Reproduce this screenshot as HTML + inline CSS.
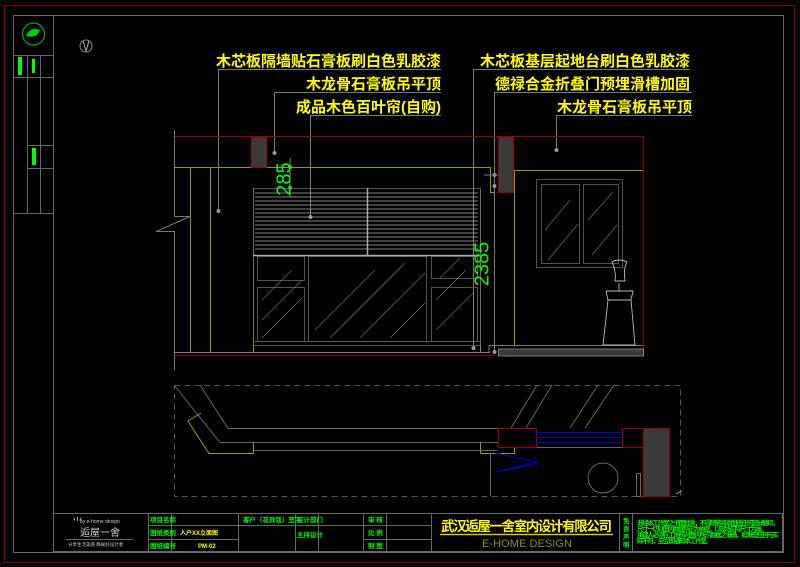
<!DOCTYPE html>
<html><head><meta charset="utf-8">
<style>
html,body{margin:0;padding:0;background:#000;}
svg{display:block;}
text{font-family:"Liberation Sans","Noto Sans CJK SC",sans-serif;}
.y{fill:#ffff00;font-size:15px;font-weight:bold;}
.g{fill:#00ff00;font-size:6.5px;font-weight:bold;}
</style></head><body>
<svg width="800" height="567" viewBox="0 0 800 567" xmlns="http://www.w3.org/2000/svg">
<rect x="0" y="0" width="800" height="567" fill="#000"/>
<rect x="4.5" y="5.5" width="790" height="557" fill="none" stroke="#8b0000" stroke-width="1"/>
<rect x="13.5" y="15.5" width="770" height="537" fill="none" stroke="#666" stroke-width="1"/>
<g stroke="#666" fill="none">
<line x1="53.5" y1="15" x2="53.5" y2="552"/>
<line x1="13" y1="55.5" x2="53" y2="55.5"/>
<line x1="13" y1="77.5" x2="53" y2="77.5"/>
<line x1="13" y1="213.5" x2="53" y2="213.5"/>
<line x1="27.5" y1="55" x2="27.5" y2="213"/>
<line x1="40.5" y1="55" x2="40.5" y2="213"/>
<line x1="27" y1="145.5" x2="53" y2="145.5"/>
<line x1="27" y1="168.5" x2="53" y2="168.5"/>
</g>
<circle cx="33.5" cy="34" r="11" fill="none" stroke="#00aa00" stroke-width="1.2"/>
<path d="M26 36 q4 -10 14 -6 q-3 9 -14 6z" fill="#00cc00"/>
<rect x="18" y="57" width="4" height="18" fill="#00ff00"/>
<rect x="32" y="59" width="3" height="14" fill="#00ff00"/>
<rect x="32" y="148" width="4" height="17" fill="#00ff00"/>
<circle cx="86" cy="46" r="6" fill="none" stroke="#888"/>
<path d="M83 41 L86 51 L89 41" fill="none" stroke="#aaa"/>
<text class="y" x="441" y="66" text-anchor="end">木芯板隔墙贴石膏板刷白色乳胶漆</text>
<text class="y" x="441" y="89" text-anchor="end">木龙骨石膏板吊平顶</text>
<text class="y" x="441" y="112" text-anchor="end">成品木色百叶帘(自购)</text>
<text class="y" x="690" y="66" text-anchor="end">木芯板基层起地台刷白色乳胶漆</text>
<text class="y" x="690" y="89" text-anchor="end">德禄合金折叠门预埋滑槽加固</text>
<text class="y" x="692" y="112" text-anchor="end">木龙骨石膏板吊平顶</text>
<g stroke="#777" fill="none">
<polyline points="441,69.5 218.5,69.5 218.5,211"/>
<polyline points="441,92.5 274.5,92.5 274.5,153"/>
<polyline points="441,115.5 310.5,115.5 310.5,217"/>
<polyline points="690,69.5 473.5,69.5 473.5,348"/>
<polyline points="692,92.5 494.5,92.5 494.5,352"/>
<polyline points="692,115.5 556.5,115.5 556.5,150"/>
</g>
<g fill="#999">
<circle cx="218.5" cy="211" r="2"/><circle cx="274.5" cy="153" r="2"/><circle cx="310.5" cy="217" r="2"/>
<circle cx="473.5" cy="348" r="2"/><circle cx="556.5" cy="150" r="2"/>
<circle cx="494.5" cy="175" r="2"/><circle cx="494.5" cy="352" r="2"/><circle cx="494.5" cy="186" r="2"/>
<circle cx="290" cy="167" r="2"/><circle cx="290" cy="188" r="2"/>
</g>
<g fill="none">
<polyline points="174,136.5 643.5,136.5 643.5,355.5 174,355.5" stroke="#8b0000"/>
<polyline points="174.5,130 174.5,216.5 190,216.5 156,231.5 174.5,231.5 174.5,370" stroke="#777"/>
<polyline points="174,167.5 490.5,167.5 490.5,192.5 495,192.5" stroke="#999900"/>
<polyline points="514.5,345 514.5,170.5 643,170.5" stroke="#999900"/>
<line x1="190.5" y1="167" x2="190.5" y2="352" stroke="#999900"/>
<line x1="210.5" y1="167" x2="210.5" y2="352" stroke="#999900"/>
<line x1="253.5" y1="188" x2="253.5" y2="352" stroke="#999900"/>
<line x1="480.5" y1="188" x2="480.5" y2="352" stroke="#999900"/>
<line x1="174" y1="352.5" x2="490" y2="352.5" stroke="#777"/>
<polyline points="489,352 489,345.5 643,345.5" stroke="#777"/>
<line x1="290" y1="158" x2="290" y2="197" stroke="#888"/>
<line x1="484" y1="175" x2="504" y2="175" stroke="#777"/>
</g>
<rect x="251.5" y="137.5" width="15" height="30" fill="#3a3a3a" stroke="#a00000"/>
<rect x="498.5" y="137.5" width="15" height="55" fill="#3a3a3a" stroke="#a00000"/>
<rect x="498.5" y="349" width="145" height="7" fill="#3a3a3a" stroke="#777"/>
<g stroke="#666" fill="none" stroke-width="0.8">
<rect x="253.5" y="188.5" width="227" height="157"/>
<line x1="253" y1="341.5" x2="480" y2="341.5"/>
<rect x="257.5" y="256.5" width="47" height="24"/><rect x="257.5" y="287.5" width="47" height="54"/>
<rect x="308.5" y="256.5" width="118" height="85"/>
<rect x="431.5" y="256.5" width="46" height="22"/><rect x="431.5" y="287.5" width="46" height="54"/>
<path d="M262 300 l30 -30 M262 320 l40 -40 M262 338 l40 -40 M315 330 l60 -60 M330 338 l75 -75 M360 338 l65 -65 M390 338 l35 -35 M436 300 l30 -30 M436 330 l38 -38 M440 278 l20 -20"/>
</g>
<g stroke="#aaa" stroke-width="0.8">
<line x1="255" y1="193" x2="478" y2="193"/><line x1="255" y1="197" x2="478" y2="197"/>
<line x1="255" y1="201" x2="478" y2="201"/><line x1="255" y1="205" x2="478" y2="205"/>
<line x1="255" y1="209" x2="478" y2="209"/><line x1="255" y1="213" x2="478" y2="213"/>
<line x1="255" y1="217" x2="478" y2="217"/><line x1="255" y1="221" x2="478" y2="221"/>
<line x1="255" y1="225" x2="478" y2="225"/><line x1="255" y1="229" x2="478" y2="229"/>
<line x1="255" y1="233" x2="478" y2="233"/><line x1="255" y1="237" x2="478" y2="237"/>
<line x1="255" y1="241" x2="478" y2="241"/><line x1="255" y1="245" x2="478" y2="245"/>
<line x1="255" y1="249" x2="478" y2="249"/><line x1="253" y1="255.5" x2="480" y2="255.5" stroke-width="1.5"/>
<line x1="367.5" y1="188" x2="367.5" y2="256" stroke-width="1.5"/>
</g>
<g stroke="#666" fill="none" stroke-width="0.8">
<rect x="536.5" y="179.5" width="86" height="88"/>
<rect x="541.5" y="184.5" width="38" height="79"/>
<rect x="583.5" y="184.5" width="35" height="79"/>
<path d="M545 230 l25 -30 M548 260 l30 -36 M588 220 l25 -28 M592 255 l25 -30"/>
</g>
<g stroke="#bbb" fill="none" stroke-width="0.9">
<polyline points="606,291 633,291 631,300 608,300 606,291"/>
<polyline points="608,300 603,345 635,345 631,300"/>
<line x1="619" y1="283" x2="619" y2="291"/>
<path d="M612 262 q7 -4 15 0 l-2 5 q-1 8 0 14 l-10 0 q1 -6 -1 -14z"/>
</g>
<text x="285" y="179" fill="#00ff00" font-size="20" transform="rotate(-90 285 179)" text-anchor="middle" dominant-baseline="middle" style="font-family:'Liberation Sans',sans-serif">285</text>
<text x="483" y="264" fill="#00ff00" font-size="20" transform="rotate(-90 483 264)" text-anchor="middle" dominant-baseline="middle" style="font-family:'Liberation Sans',sans-serif">2385</text>
<rect x="174.5" y="385.5" width="506" height="111" fill="none" stroke="#555" stroke-dasharray="6,4"/>
<g fill="none" stroke="#666">
<polyline points="200,385 228,428.5 498,428.5"/>
<polyline points="174,385 220,442.5 498,442.5"/>
<line x1="253" y1="450.5" x2="497" y2="450.5"/>
<line x1="537" y1="385" x2="511" y2="428"/><line x1="552" y1="385" x2="526" y2="428"/>
<line x1="598" y1="385" x2="570" y2="428"/><line x1="614" y1="385" x2="585" y2="428"/>
<line x1="490.5" y1="453" x2="490.5" y2="496"/>
<line x1="536" y1="447.5" x2="622" y2="447.5"/>
<circle cx="603" cy="478" r="15"/>
<rect x="636.5" y="473.5" width="4" height="23"/>
</g>
<g fill="none" stroke="#999900">
<polyline points="201,413 188,421 209,453.5 253.5,453.5 253.5,442"/>
<polyline points="480.5,442 480.5,453.5 514.5,453.5 514.5,447"/>
<line x1="676" y1="494" x2="682" y2="491"/>
</g>
<rect x="498.5" y="428.5" width="38" height="19" fill="none" stroke="#a00000"/>
<rect x="622.5" y="428.5" width="21" height="19" fill="none" stroke="#a00000"/>
<rect x="643.5" y="428.5" width="26" height="68" fill="#3a3a3a" stroke="#a00000"/>
<g stroke="#0000cc"><line x1="536" y1="432.5" x2="622" y2="432.5"/><line x1="536" y1="437.5" x2="622" y2="437.5"/><line x1="536" y1="442.5" x2="622" y2="442.5"/></g>
<polyline points="495,453 538,462 495,472 538,464" fill="none" stroke="#0000cc"/>
<g stroke="#666" fill="none">
<rect x="53.5" y="513.5" width="729" height="38"/>
<line x1="148.5" y1="513" x2="148.5" y2="551"/><line x1="171.5" y1="513" x2="171.5" y2="551"/>
<line x1="238.5" y1="513" x2="238.5" y2="551"/><line x1="295.5" y1="513" x2="295.5" y2="551"/>
<line x1="318.5" y1="513" x2="318.5" y2="551"/><line x1="363.5" y1="513" x2="363.5" y2="551"/>
<line x1="386.5" y1="513" x2="386.5" y2="551"/><line x1="431.5" y1="513" x2="431.5" y2="551"/>
<line x1="619.5" y1="513" x2="619.5" y2="551"/><line x1="632.5" y1="513" x2="632.5" y2="551"/>
<line x1="148" y1="525.5" x2="431" y2="525.5"/><line x1="148" y1="539.5" x2="238" y2="539.5"/>
<line x1="363" y1="539.5" x2="431" y2="539.5"/>
<line x1="66" y1="539.5" x2="133" y2="539.5"/>
</g>
<text x="72" y="526" fill="#ccc" font-size="11">⺌</text>
<text x="80" y="523" fill="#ccc" font-size="5">by e-home design</text>
<text x="80" y="536" fill="#ccc" font-size="10">逅屋一舍</text>
<text x="68" y="546" fill="#ccc" font-size="4.5">分享生活美感 静候好设计者</text>
<text class="g" x="150" y="522">项目名称</text>
<text class="g" x="150" y="535">图纸类别</text>
<text class="g" x="150" y="548">图纸编号</text>
<text x="180" y="535" fill="#ffff00" font-size="6" font-weight="bold">入户XX立面图</text>
<text x="198" y="548" fill="#ffff00" font-size="6" font-weight="bold">PM-02</text>
<text class="g" x="243" y="522">客户（花异弦）签字</text>
<text class="g" x="297" y="522">设计部门</text>
<text class="g" x="297" y="537">主持设计</text>
<text class="g" x="368" y="522">审 核</text>
<text class="g" x="368" y="535">比 例</text>
<text class="g" x="368" y="548">制 图</text>
<text x="441" y="531" fill="#ffff00" font-size="13.5" font-weight="bold" textLength="171">武汉逅屋一舍室内设计有限公司</text>
<line x1="440" y1="534.5" x2="613" y2="534.5" stroke="#cccc00" stroke-width="1.5"/>
<text x="482" y="547" fill="#909000" font-size="11" textLength="90">E-HOME DESIGN</text>
<text class="g" x="623" y="523" font-size="5">免</text><text class="g" x="623" y="531" font-size="5">责</text>
<text class="g" x="623" y="539" font-size="5">声</text><text class="g" x="623" y="547" font-size="5">明</text>
<text class="g" x="637" y="525" font-size="4.8" textLength="142">非经本工作室之书面批准，不得随意将本图纸任何部分翻印，</text>
<text class="g" x="637" y="531" font-size="4.8" textLength="130">尺寸一切以图内数据所示为依据，以现场实际尺寸为准。</text>
<text class="g" x="637" y="537" font-size="4.8" textLength="142">承建人必须在工地核对图内所示数据之准确，如发现任何与实</text>
<text class="g" x="637" y="543" font-size="4.8" textLength="75">际不符，应立即通知本工作室。</text>
</svg>
</body></html>
